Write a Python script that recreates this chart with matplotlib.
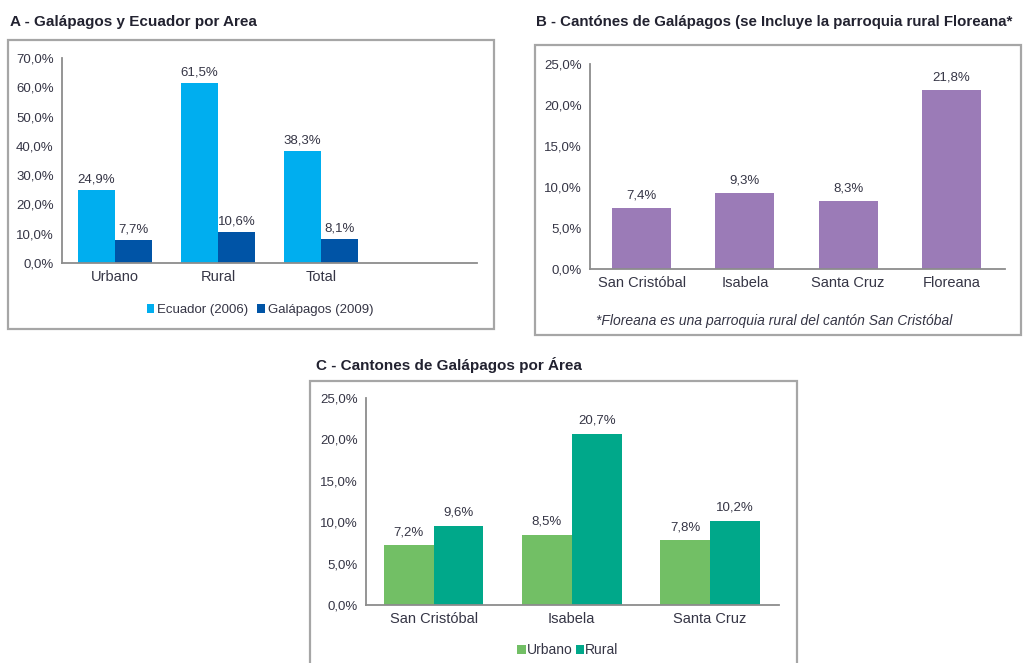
import matplotlib.pyplot as plt
from matplotlib.patches import Rectangle
import numpy as np

plt.rcParams['font.family'] = ['Liberation Sans Narrow', 'Liberation Sans', 'DejaVu Sans']

W, H = 1027, 663

# A - Galápagos y Ecuador por Area
areas = ['Urbano', 'Rural', 'Total']
ecuador_2006 = [24.9, 61.5, 38.3]
galapagos_2009 = [7.7, 10.6, 8.1]

# B - Cantones (con Floreana)
cantones_b = ['San Cristóbal', 'Isabela', 'Santa Cruz', 'Floreana']
valores_b = [7.4, 9.3, 8.3, 21.8]

# C - Cantones por área
cantones_c = ['San Cristóbal', 'Isabela', 'Santa Cruz']
urbano_c = [7.2, 8.5, 7.8]
rural_c = [9.6, 20.7, 10.2]

TXT = '#353545'
AXC = '#8c8c8c'


def px(l, t, r, b):
    return [l / W, 1 - b / H, (r - l) / W, (b - t) / H]


def caja(fig, l, t, r, b):
    fig.add_artist(Rectangle((l / W, 1 - b / H), (r - l) / W, (b - t) / H,
                             transform=fig.transFigure, fill=False,
                             edgecolor='#a6a6a6', linewidth=1.6))


def estilo(ax, ymax, paso):
    ax.set_ylim(0, ymax)
    ticks = np.arange(0, ymax + 0.01, paso)
    ax.set_yticks(ticks)
    ax.set_yticklabels([('%.1f%%' % t).replace('.', ',') for t in ticks])
    for s in ['top', 'right']:
        ax.spines[s].set_visible(False)
    for s in ['left', 'bottom']:
        ax.spines[s].set_color(AXC)
        ax.spines[s].set_linewidth(1.3)
    ax.tick_params(length=0, colors=TXT, labelsize=9.5)
    ax.tick_params(axis='y', pad=6)
    ax.tick_params(axis='x', pad=5, labelsize=10.5)
    ax.patch.set_alpha(0)


def etiquetas(ax, xs, vals, off):
    for x, v in zip(xs, vals):
        ax.text(x, v + off, ('%.1f%%' % v).replace('.', ','), ha='center',
                va='bottom', fontsize=9.5, color=TXT)


fig = plt.figure(figsize=(W / 100, H / 100), dpi=100)

# ---- panel A
caja(fig, 8, 40, 494, 329)
fig.text(10 / W, 1 - 22 / H, 'A - Galápagos y Ecuador por Area', fontsize=11,
         fontweight='bold', color='#222230', va='center', ha='left')
axa = fig.add_axes(px(62, 58, 477, 263))
xa = np.arange(len(areas))
bw = 0.36
axa.bar(xa - bw / 2, ecuador_2006, bw, color='#00AEEF', label='Ecuador (2006)')
axa.bar(xa + bw / 2, galapagos_2009, bw, color='#0054A6', label='Galápagos (2009)')
axa.set_xlim(-0.515, 3.51)
axa.set_xticks(xa)
axa.set_xticklabels(areas)
estilo(axa, 70, 10)
etiquetas(axa, xa - bw / 2, ecuador_2006, 1.6)
etiquetas(axa, xa + bw / 2, galapagos_2009, 1.6)
axa.legend(loc='center', bbox_to_anchor=(260 / W, 1 - 310 / H),
           bbox_transform=fig.transFigure, ncol=2, frameon=False,
           handlelength=0.6, handleheight=0.6, handletextpad=0.2,
           columnspacing=0.7, fontsize=9.5, labelcolor=TXT)

# ---- panel B
caja(fig, 535, 45, 1021, 335)
fig.text(536 / W, 1 - 22 / H,
         'B - Cantónes de Galápagos (se Incluye la parroquia rural Floreana*',
         fontsize=10.8, fontweight='bold', color='#222230', va='center', ha='left')
axb = fig.add_axes(px(590, 64, 1005, 269))
xb = np.arange(len(cantones_b))
axb.bar(xb, valores_b, 0.57, color='#9B7BB7')
axb.set_xlim(-0.5, 3.52)
axb.set_xticks(xb)
axb.set_xticklabels(cantones_b)
estilo(axb, 25, 5)
etiquetas(axb, xb, valores_b, 0.8)
fig.text(774 / W, 1 - 321 / H,
         '*Floreana es una parroquia rural del cantón San Cristóbal',
         fontsize=10, style='italic', color=TXT, ha='center', va='center')

# ---- panel C
caja(fig, 310, 381, 797, 670)
fig.text(316 / W, 1 - 365 / H, 'C - Cantones de Galápagos por Área', fontsize=11,
         fontweight='bold', color='#222230', va='center', ha='left')
axc = fig.add_axes(px(366, 398, 779, 605))
xc = np.arange(len(cantones_c))
bc = 0.36
axc.bar(xc - bc / 2, urbano_c, bc, color='#72BF65', label='Urbano')
axc.bar(xc + bc / 2, rural_c, bc, color='#00A88A', label='Rural')
axc.set_xlim(-0.49, 2.5)
axc.set_xticks(xc)
axc.set_xticklabels(cantones_c)
estilo(axc, 25, 5)
etiquetas(axc, xc - bc / 2, urbano_c, 0.8)
etiquetas(axc, xc + bc / 2, rural_c, 0.8)
axc.legend(loc='center', bbox_to_anchor=(568 / W, 1 - 650 / H),
           bbox_transform=fig.transFigure, ncol=2, frameon=False,
           handlelength=0.6, handleheight=0.6, handletextpad=0.1,
           columnspacing=0.2, fontsize=10, labelcolor=TXT)

fig.savefig('out.png', dpi=100, facecolor='white')
